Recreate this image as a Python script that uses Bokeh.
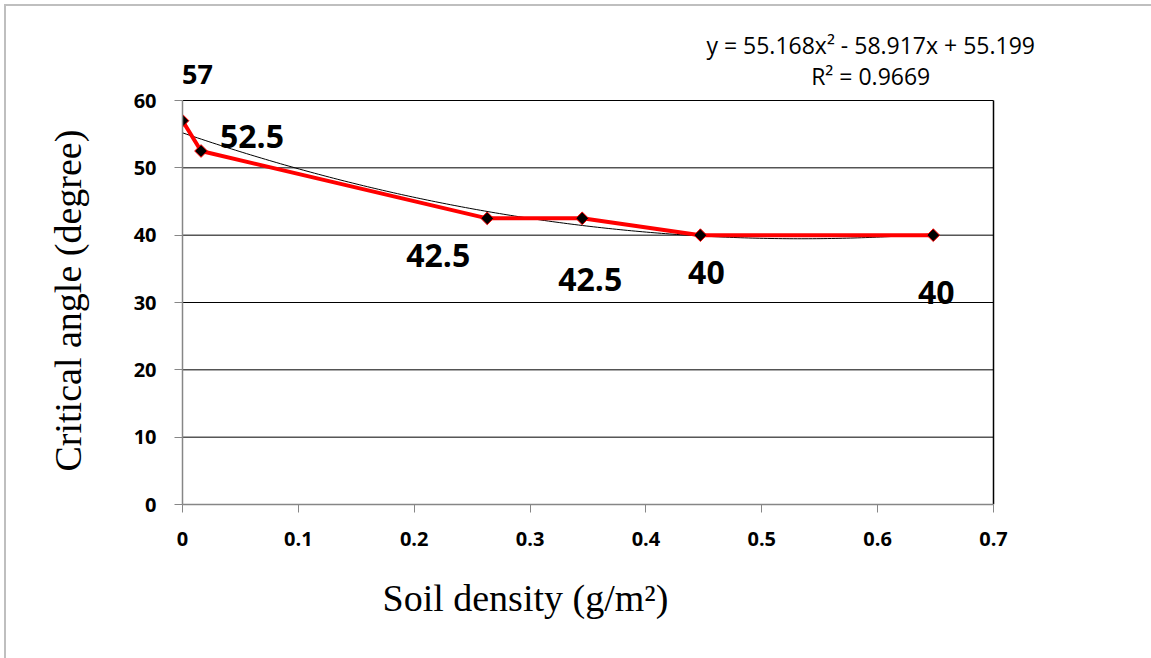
import numpy as np
from bokeh.plotting import figure
from bokeh.models import ColumnDataSource, Range1d, FixedTicker, Title
from bokeh.core.properties import value
from bokeh.embed import file_html
from bokeh.resources import INLINE

# ---- data ----
soil_density = [0.0, 0.016, 0.263, 0.345, 0.447, 0.648]
critical_angle = [57, 52.5, 42.5, 42.5, 40, 40]
point_labels = ["57", "52.5", "42.5", "42.5", "40", "40"]
trend_coef = [55.168, -58.917, 55.199]
equation_lines = ["y = 55.168x\u00b2 - 58.917x + 55.199", "R\u00b2 = 0.9669"]
x_ticks = [0, 0.1, 0.2, 0.3, 0.4, 0.5, 0.6, 0.7]
x_tick_labels = ["0", "0.1", "0.2", "0.3", "0.4", "0.5", "0.6", "0.7"]
y_ticks = [0, 10, 20, 30, 40, 50, 60]
x_title = "Soil density (g/m\u00b2)"
y_title = "Critical angle (degree)"

# ---- layout / style ----
label_dx = [15, 51, -49, 8, 6, 3]          # screen px
label_dy = [-46, -15, 37, 61, 37, 57]      # screen px, positive = down
label_size = ["27px", "32px", "32px", "32px", "32px", "32px"]
eq_x = [0.594, 0.594]
eq_y = [68.2, 63.7]
FRAME_L, FRAME_R, FRAME_T, FRAME_B = 182, 1145, 8, 504
PX_PER_X = (993 - 182) / 0.7
PX_PER_Y = (504 - 100) / 60.0
W, H = 1151, 658

p = figure(width=W, height=H, output_backend="svg", toolbar_location=None,
           x_range=Range1d(0, (FRAME_R - FRAME_L) / PX_PER_X),
           y_range=Range1d(0, (FRAME_B - FRAME_T) / PX_PER_Y),
           min_border_left=FRAME_L, min_border_right=W - FRAME_R,
           min_border_top=FRAME_T, min_border_bottom=H - FRAME_B,
           styles={"box-shadow": "inset 4px 4px 0 0 white, inset 6px 6px 0 0 #bfbfbf"})
p.border_fill_alpha = 0
p.background_fill_color = "white"
p.outline_line_color = None
p.grid.grid_line_color = None

# axes
for ax in (p.xaxis[0], p.yaxis[0]):
    ax.axis_line_color = "#868686"
    ax.axis_line_width = 1.5
    ax.major_tick_line_color = "#868686"
    ax.major_tick_in = 0
    ax.major_tick_out = 8
    ax.minor_tick_line_color = None
    ax.major_label_text_font = "Open Sans"
    ax.major_label_text_font_style = "bold"
    ax.major_label_text_font_size = "20px"
    ax.major_label_text_color = "black"

p.xaxis[0].ticker = FixedTicker(ticks=x_ticks)
p.xaxis[0].major_label_overrides = {t: l for t, l in zip(x_ticks, x_tick_labels)}
p.xaxis[0].bounds = (x_ticks[0], x_ticks[-1])
p.yaxis[0].ticker = FixedTicker(ticks=y_ticks)
p.yaxis[0].bounds = (y_ticks[0], y_ticks[-1])
p.xaxis[0].major_label_standoff = 19
p.yaxis[0].major_label_standoff = 18

# axis titles (placed like the original, off-centre)
p.add_layout(Title(text=x_title, align="left", offset=200, standoff=52,
                   text_font="Liberation Serif", text_font_size="38px",
                   text_font_style="normal", text_color="black"), "below")
p.add_layout(Title(text=y_title, align="left", offset=33, standoff=84,
                   text_font="Liberation Serif", text_font_size="38px",
                   text_font_style="normal", text_color="black"), "left")

# gridlines and plot-area border
gy = y_ticks[1:]
p.segment(x0=[x_ticks[0]] * len(gy), x1=[x_ticks[-1]] * len(gy), y0=gy, y1=gy,
          line_color="black", line_width=1)
p.line([x_ticks[-1], x_ticks[-1]], [y_ticks[0], y_ticks[-1]], line_color="black", line_width=1.5)

# trendline (2nd order polynomial from displayed coefficients)
tx = np.linspace(min(soil_density), max(soil_density), 200)
ty = np.polyval(trend_coef, tx)
p.line(tx, ty, line_color="black", line_width=1)

# series
src = ColumnDataSource(dict(x=soil_density, y=critical_angle, text=point_labels,
                            dx=label_dx, dy=label_dy, fs=label_size))
p.line("x", "y", source=src, line_color="#ff0000", line_width=4)
p.scatter("x", "y", source=src, marker="square", angle=np.pi / 4, size=9,
          fill_color="black", line_color="#ff0000", line_width=1)

p.text("x", "y", text="text", source=src, x_offset="dx", y_offset="dy",
       text_font=value("Open Sans"), text_font_style="bold", text_font_size="fs",
       text_align="center", text_baseline="middle", text_color="black")

p.text(eq_x, eq_y, text=equation_lines, text_font=value("Open Sans"),
       text_font_size="23px", text_align="center", text_baseline="middle", text_color="black")

open("out.html", "w").write(file_html(p, INLINE))
